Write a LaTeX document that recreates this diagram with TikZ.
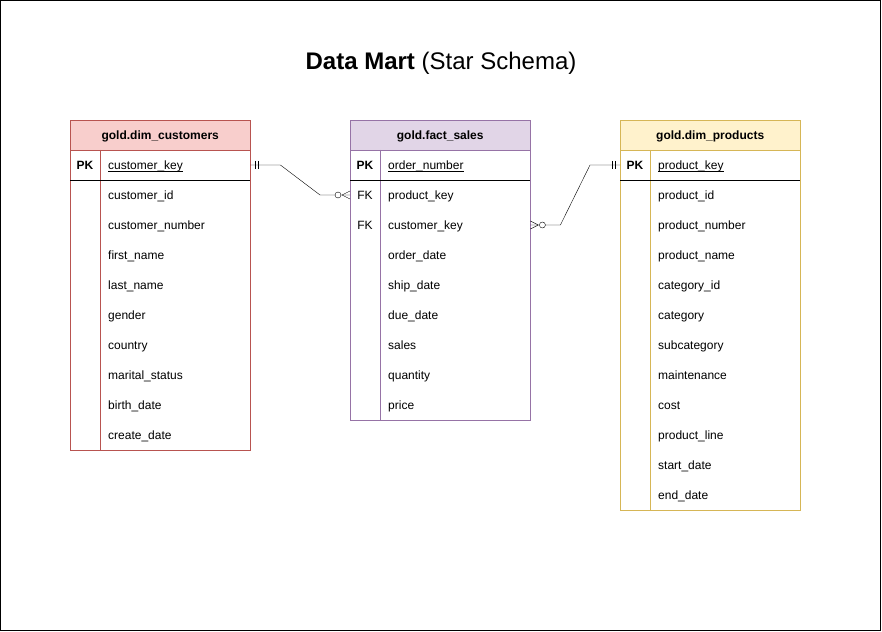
\documentclass[tikz,border=0pt]{standalone}
\usepackage{fontspec}
\setmainfont{Liberation Sans}
\usetikzlibrary{calc}
\definecolor{custfill}{HTML}{F8CECC}
\definecolor{custline}{HTML}{B85450}
\definecolor{factfill}{HTML}{E1D5E7}
\definecolor{factline}{HTML}{9673A6}
\definecolor{prodfill}{HTML}{FFF2CC}
\definecolor{prodline}{HTML}{D6B656}
\newcommand{\keyname}[1]{\underline{\smash{#1}}}
\tikzset{
  hdr/.style={draw, anchor=north west, minimum width=180pt, minimum height=30pt,
    inner sep=0pt, text height=8.6pt, text depth=0pt, font=\fontsize{12}{14}\selectfont\bfseries},
  tbody/.style={draw, anchor=north west, minimum width=180pt, inner sep=0pt},
  field/.style={anchor=base west, inner sep=0pt},
  keytag/.style={anchor=base, inner sep=0pt, font=\fontsize{12}{14}\selectfont\bfseries},
}

\begin{document}
\begin{tikzpicture}[x=1pt,y=-1pt,font=\fontsize{12}{14}\selectfont]
\useasboundingbox (0,0) rectangle (882,631);
\draw (0.5,0.5) rectangle (880.5,630.5);
\node (title) at (441,63) {\fontsize{24}{28}\selectfont\textbf{Data Mart} (Star Schema)};
% gold.dim_customers
\node[hdr, draw=custline, fill=custfill] (cust) at (70,120) {gold.dim\_customers};
\node[tbody, draw=custline, minimum height=300pt] (custb) at (70,150) {};
\draw[custline] ($(custb.north west)+(30,0)$) -- ($(custb.south west)+(30,0)$);
\draw ($(custb.north west)+(0,30)$) -- ($(custb.north east)+(0,30)$);
\node[keytag] at (85,169.3) {PK};
\node[field] (custpk) at (108,169.3) {\keyname{customer\_key}};
\foreach \f [count=\i] in {customer\_id,customer\_number,first\_name,last\_name,gender,country,marital\_status,birth\_date,create\_date}
  \node[field] (cust\i) at (108,{169.3+30*\i}) {\f};
% gold.fact_sales
\node[hdr, draw=factline, fill=factfill] (fact) at (350,120) {gold.fact\_sales};
\node[tbody, draw=factline, minimum height=270pt] (factb) at (350,150) {};
\draw[factline] ($(factb.north west)+(30,0)$) -- ($(factb.south west)+(30,0)$);
\draw ($(factb.north west)+(0,30)$) -- ($(factb.north east)+(0,30)$);
\node[keytag] at (365,169.3) {PK};
\node[field] (factpk) at (388,169.3) {\keyname{order\_number}};
\foreach \f [count=\i] in {product\_key,customer\_key,order\_date,ship\_date,due\_date,sales,quantity,price}
  \node[field] (fact\i) at (388,{169.3+30*\i}) {\f};
\node[anchor=base, inner sep=0pt] at (365,199.3) {FK};
\node[anchor=base, inner sep=0pt] at (365,229.3) {FK};
% gold.dim_products
\node[hdr, draw=prodline, fill=prodfill] (prod) at (620,120) {gold.dim\_products};
\node[tbody, draw=prodline, minimum height=360pt] (prodb) at (620,150) {};
\draw[prodline] ($(prodb.north west)+(30,0)$) -- ($(prodb.south west)+(30,0)$);
\draw ($(prodb.north west)+(0,30)$) -- ($(prodb.north east)+(0,30)$);
\node[keytag] at (635,169.3) {PK};
\node[field] (prodpk) at (658,169.3) {\keyname{product\_key}};
\foreach \f [count=\i] in {product\_id,product\_number,product\_name,category\_id,category,subcategory,maintenance,cost,product\_line,start\_date,end\_date}
  \node[field] (prod\i) at (658,{169.3+30*\i}) {\f};
% relationships
\coordinate (r1a) at ($(custb.north east)+(0,15)$);
\coordinate (r1b) at ($(factb.north west)+(0,45)$);
\coordinate (r2a) at ($(factb.north east)+(0,75)$);
\coordinate (r2b) at ($(prodb.north west)+(0,15)$);
\draw (r1a) -- ++(30,0) -- ($(r1b)+(-30,0)$) -- (r1b);
\draw (r1a) ++(5,-4) -- ++(0,8) ++(3,-8) -- ++(0,8);
\draw (r1b) ++(-8,0) -- ++(8,-4) ++(-8,4) -- ++(8,4);
\draw[fill=white] (r1b) ++(-12,0) circle (3);
\draw (r2a) -- ++(30,0) -- ($(r2b)+(-30,0)$) -- (r2b);
\draw (r2a) ++(8,0) -- ++(-8,-4) ++(8,4) -- ++(-8,4);
\draw[fill=white] (r2a) ++(12,0) circle (3);
\draw (r2b) ++(-5,-4) -- ++(0,8) ++(-3,-8) -- ++(0,8);
\end{tikzpicture}
\end{document}
